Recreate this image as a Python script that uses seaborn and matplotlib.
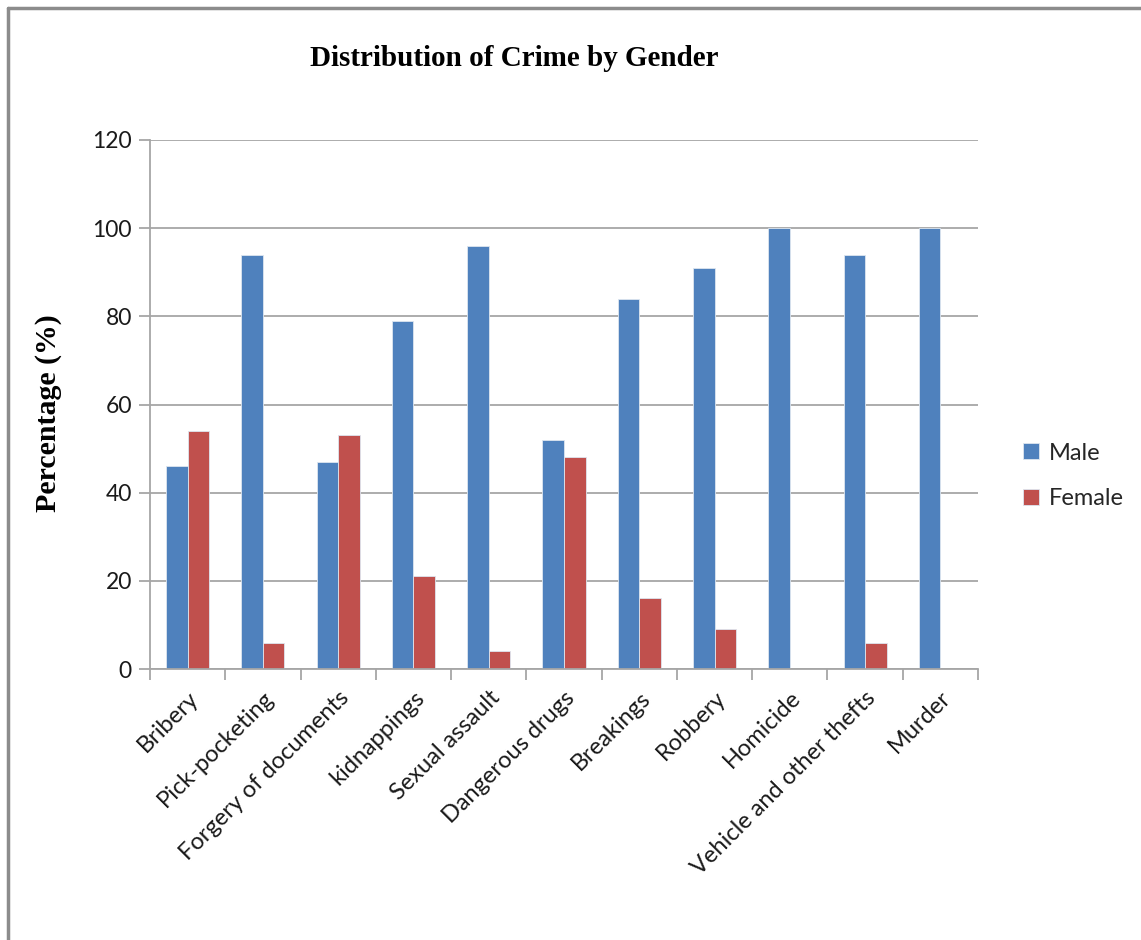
import matplotlib
matplotlib.use("Agg")
import matplotlib.pyplot as plt
from matplotlib.lines import Line2D
import seaborn as sns
import pandas as pd
import numpy as np

categories = ["Bribery", "Pick-pocketing", "Forgery of documents", "kidnappings",
              "Sexual assault", "Dangerous drugs", "Breakings", "Robbery",
              "Homicide", "Vehicle and other thefts", "Murder"]
male = [46, 94, 47, 79, 96, 52, 84, 91, 100, 94, 100]
female = [54, 6, 53, 21, 4, 48, 16, 9, 0, 6, 0]
series = ["Male", "Female"]
colors = ["#4F81BD", "#C0504D"]
yticks = [0, 20, 40, 60, 80, 100, 120]

df = pd.DataFrame({
    "Crime": categories * 2,
    "Gender": ["Male"] * len(categories) + ["Female"] * len(categories),
    "Percentage": male + female,
})

sns.set_theme(style="white")
plt.rcParams["font.family"] = ["Lato", "DejaVu Sans"]

W, H = 1141, 940
fig = plt.figure(figsize=(W / 100, H / 100), dpi=100)
ax = fig.add_axes([150 / W, 1 - 669 / H, (978 - 150) / W, (669 - 140) / H])

sns.barplot(data=df, x="Crime", y="Percentage", hue="Gender", hue_order=series,
            palette=colors, width=2 / 3.5, saturation=1, ax=ax,
            edgecolor="#DDE6F0", linewidth=0.6, legend=True)

ax.set_xlim(-0.5, len(categories) - 0.5)
ax.set_ylim(0, 120)
ax.set_yticks(yticks)
ax.set_yticklabels([str(v) for v in yticks], fontsize=16.5, color="#1a1a1a")
ax.yaxis.grid(True, color="#A6A6A6", linewidth=1.3)
ax.set_axisbelow(True)

for side in ["top", "right"]:
    ax.spines[side].set_visible(False)
for side in ["left", "bottom"]:
    ax.spines[side].set_color("#A6A6A6")
    ax.spines[side].set_linewidth(1.3)

ax.tick_params(axis="y", which="major", length=8, width=1.3, color="#A6A6A6",
               direction="out", left=True, pad=5)
ax.tick_params(axis="x", which="major", length=0, pad=13)
ax.set_xticks(np.arange(-0.5, len(categories), 1.0), minor=True)
ax.tick_params(axis="x", which="minor", length=8, width=1.3, color="#A6A6A6",
               direction="out", bottom=True)
ax.set_xticks(np.arange(len(categories)))
ax.set_xticklabels(categories, rotation=45, ha="right", rotation_mode="anchor",
                   fontsize=17, color="#1a1a1a")

ax.set_xlabel("")
ax.set_ylabel("Percentage (%)", family=["Liberation Serif"], fontweight="bold",
              fontsize=21.5, color="black")
ax.yaxis.set_label_coords((62 - 150) / 828, (669 - 413) / 529)

fig.text(514 / W, 1 - 58 / H, "Distribution of Crime by Gender",
         family=["Liberation Serif"], fontweight="bold", fontsize=21,
         ha="center", va="center", color="black")

handles, labels = ax.get_legend_handles_labels()
ax.legend(handles, labels, loc="center left", bbox_to_anchor=(1002 / W, 1 - 476 / H),
          bbox_transform=fig.transFigure, frameon=False, fontsize=17,
          handlelength=0.65, handleheight=0.65, handletextpad=0.45, labelspacing=1.05)

# outer chart frame
fig.add_artist(Line2D([8 / W, 8 / W], [0, 1 - 8 / H], transform=fig.transFigure,
                      color="#8C8C8C", linewidth=2.5))
fig.add_artist(Line2D([8 / W, 1], [1 - 8 / H, 1 - 8 / H], transform=fig.transFigure,
                      color="#8C8C8C", linewidth=2.5))

fig.savefig("out.png", dpi=100, facecolor="white")
